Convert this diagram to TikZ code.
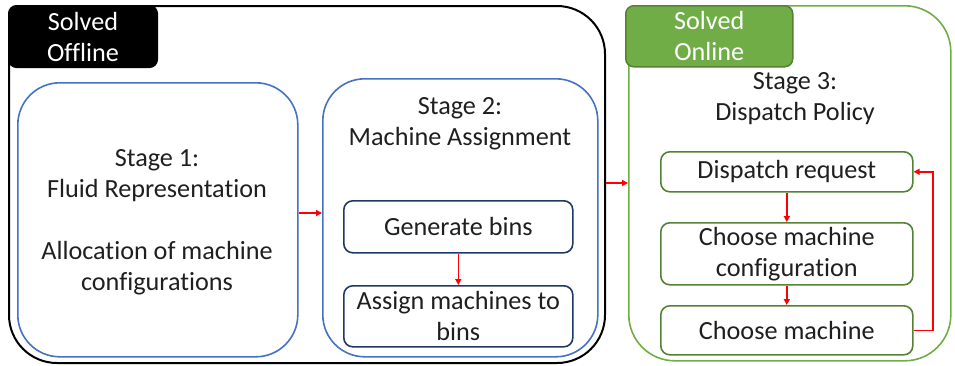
\documentclass[tikz,border=0pt]{standalone}
\usepackage{fontspec}
\setmainfont{Carlito}[Ligatures={NoCommon}]
\usetikzlibrary{arrows.meta}
\definecolor{cblue}{HTML}{4472C4}
\definecolor{cnavy}{HTML}{203864}
\definecolor{cgreen}{HTML}{70AD47}
\definecolor{cdgreen}{HTML}{548235}
\definecolor{cred}{HTML}{FF0000}
\begin{document}
\begin{tikzpicture}[x=1pt,y=-1pt,
  txt/.style={font=\fontsize{26.2}{31}\selectfont, align=center, text=black!88},
  bigbox/.style={draw, rounded corners=#1, inner sep=0pt, anchor=north west},
  tag/.style={rounded corners=8pt, inner sep=0pt, anchor=north west, font=\fontsize{26.2}{31}\selectfont, align=center, text=white},
  innerbox/.style={draw, rounded corners=9pt, line width=1.6pt, inner sep=0pt, anchor=north west, font=\fontsize{26.2}{31}\selectfont, align=center, text=black!88},
  arr/.style={draw=cred, line width=1.5pt, -{Triangle[length=6pt,width=6pt]}}
]
\useasboundingbox (0,0) rectangle (955,365);
% outer containers
\node[bigbox=48pt, line width=2pt, draw=black, minimum width=596pt, minimum height=357pt] (off) at (8,5) {};
\node[bigbox=46pt, line width=1.6pt, draw=cgreen, minimum width=322pt, minimum height=355pt] (on) at (628,5) {};
% tags
\node[tag, fill=black, draw=black, line width=1pt, minimum width=149pt, minimum height=62pt] (toff) at (8,5) {Solved\\Offline};
\node[tag, fill=cgreen, draw=cdgreen, line width=1.5pt, minimum width=167pt, minimum height=61pt] (ton) at (625,5) {Solved\\Online};
% stage boxes
\node[bigbox=42pt, line width=1.6pt, draw=cblue, minimum width=280pt, minimum height=274pt] (s1) at (17,82) {};
\node[bigbox=42pt, line width=1.6pt, draw=cblue, minimum width=275pt, minimum height=278pt] (s2) at (322,78) {};
\node[txt] (t1) at (157,222) {Stage 1:\\Fluid Representation\\[31pt]Allocation of machine\\configurations};
\node[txt] (t2) at (460,124) {Stage 2:\\Machine Assignment};
\node[txt] (t3) at (795,99) {Stage 3:\\Dispatch Policy};
% stage 2 inner
\node[innerbox, draw=cnavy, minimum width=229pt, minimum height=52pt] (gb) at (343,200) {Generate bins};
\node[innerbox, draw=cnavy, minimum width=229pt, minimum height=61pt] (am) at (343,285) {Assign machines to\\bins};
% stage 3 inner
\node[innerbox, draw=cdgreen, minimum width=252pt, minimum height=40pt] (dr) at (660,151) {Dispatch request};
\node[innerbox, draw=cdgreen, minimum width=252pt, minimum height=62pt] (cc) at (660,222) {Choose machine\\configuration};
\node[innerbox, draw=cdgreen, minimum width=252pt, minimum height=49pt] (cm) at (660,305) {Choose machine};
% arrows
\coordinate (ya) at (0,213);
\coordinate (yb) at (0,183);
\coordinate (xr) at (933,0);
\draw[arr] (s1.east |- ya) -- (s2.west |- ya);
\draw[arr] (off.east |- yb) -- (on.west |- yb);
\draw[arr] (gb.south) -- (am.north);
\draw[arr] (dr.south) -- (cc.north);
\draw[arr] (cc.south) -- (cm.north);
\draw[arr] (cm.east) -- (xr |- cm.east) -- (xr |- dr.east) -- (dr.east);
\end{tikzpicture}
\end{document}
